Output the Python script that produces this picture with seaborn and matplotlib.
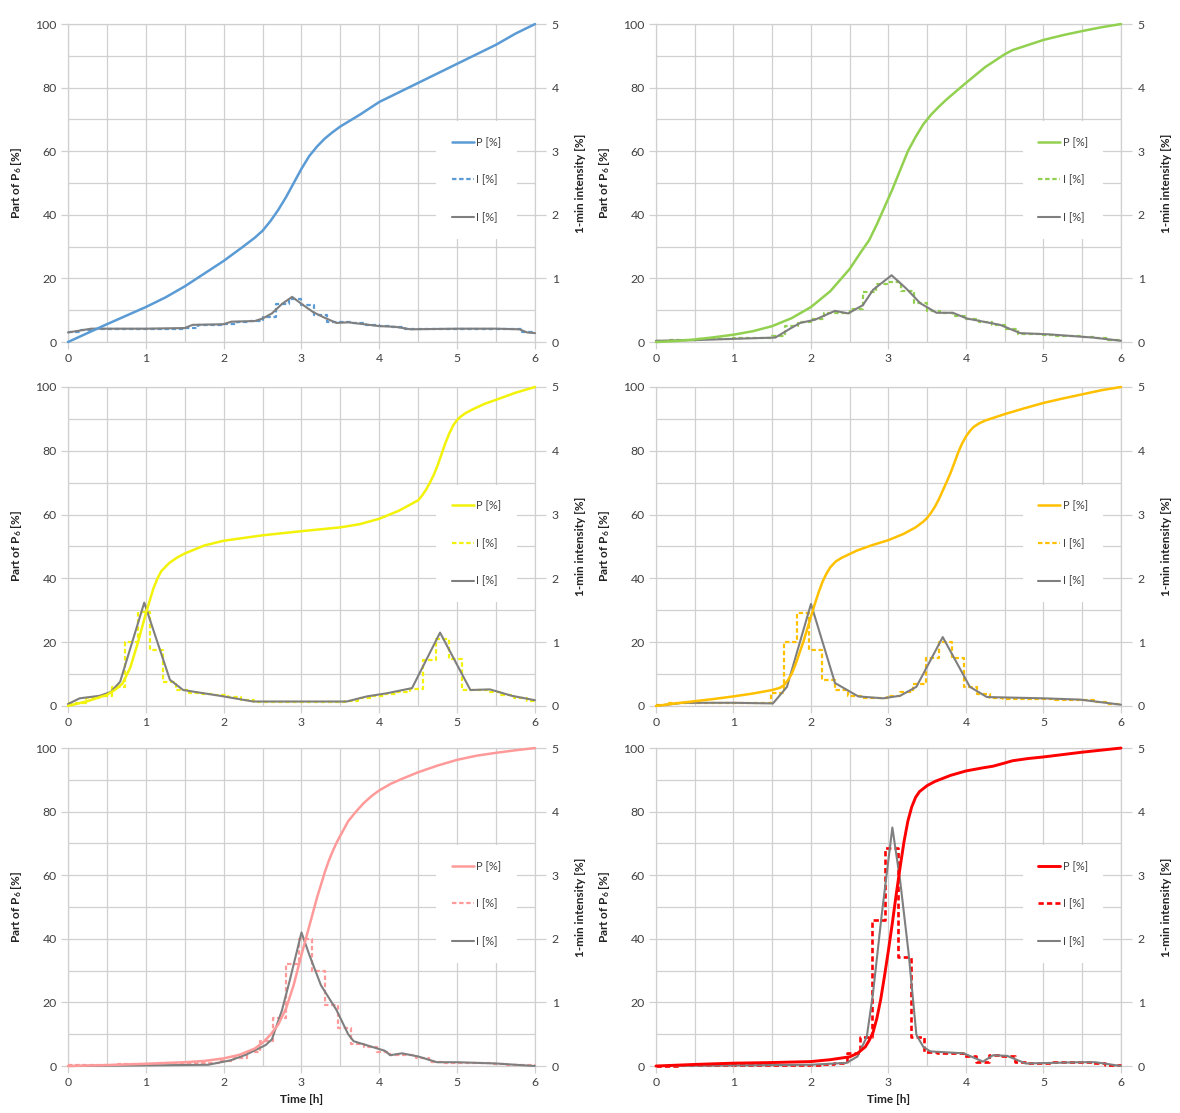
import numpy as np
import pandas as pd
import matplotlib
matplotlib.use("Agg")
import matplotlib.pyplot as plt
from matplotlib.ticker import MultipleLocator
import seaborn as sns

# ---------------- data ----------------
# cumulative precipitation P [% of P6] -- knots (time in hours)
p1_t = [0, 0.25, 0.5, 0.75, 1.0, 1.25, 1.5, 1.75, 2.0, 2.25, 2.4, 2.5, 2.6, 2.7, 2.8, 2.9,
        3.0, 3.1, 3.2, 3.3, 3.4, 3.5, 3.75, 4.0, 4.25, 4.5, 4.75, 5.0, 5.25, 5.5, 5.75, 6.0]
p1_v = [0, 2.8, 5.6, 8.3, 11, 14, 17.5, 21.5, 25.5, 30, 32.8, 35, 38, 41.5, 45.5, 50,
        54.5, 58.5, 61.5, 64, 66, 67.8, 71.5, 75.5, 78.5, 81.5, 84.5, 87.5, 90.5, 93.5, 97, 100]

p2_t = [0, 0.25, 0.5, 0.75, 1.0, 1.25, 1.5, 1.75, 2.0, 2.25, 2.5, 2.65, 2.75, 2.85, 2.95,
        3.05, 3.15, 3.25, 3.35, 3.45, 3.55, 3.65, 3.75, 4.0, 4.25, 4.5, 4.6, 4.75, 5.0,
        5.25, 5.5, 5.75, 6.0]
p2_v = [0, 0.3, 0.8, 1.5, 2.3, 3.4, 5, 7.5, 11, 16, 23, 28.5, 32, 37, 42.5,
        48, 54, 60, 64.5, 68.5, 71.5, 74, 76.3, 81.5, 86.5, 90.5, 91.8, 93, 95,
        96.5, 97.8, 99, 100]

p3_t = [0, 0.25, 0.5, 0.6, 0.7, 0.8, 0.9, 1.0, 1.05, 1.1, 1.15, 1.2, 1.3, 1.4, 1.5, 1.75,
        2.0, 2.5, 3.0, 3.5, 3.75, 4.0, 4.25, 4.5, 4.55, 4.6, 4.65, 4.7, 4.75, 4.8, 4.85,
        4.9, 4.95, 5.0, 5.05, 5.1, 5.2, 5.35, 5.5, 5.75, 6.0]
p3_v = [0, 1.5, 3.5, 5, 7, 12, 20, 29, 33, 37, 40, 42.3, 44.8, 46.5, 47.8, 50.3,
        51.8, 53.5, 54.8, 56, 57, 58.7, 61.2, 64.5, 66, 67.8, 70, 72.5, 75.5, 79, 82.5,
        85.5, 88, 89.7, 90.8, 91.7, 93, 94.7, 96, 98.2, 100]

p4_t = [0, 0.25, 0.5, 0.75, 1.0, 1.25, 1.5, 1.6, 1.65, 1.7, 1.75, 1.8, 1.85, 1.9, 1.95,
        2.0, 2.05, 2.1, 2.15, 2.2, 2.25, 2.32, 2.4, 2.6, 2.8, 3.0, 3.2, 3.35, 3.45, 3.5,
        3.55, 3.6, 3.65, 3.7, 3.75, 3.8, 3.85, 3.9, 3.95, 4.0, 4.05, 4.1, 4.17, 4.25,
        4.35, 4.5, 4.75, 5.0, 5.25, 5.5, 5.75, 6.0]
p4_v = [0, 0.8, 1.5, 2.2, 3, 3.9, 5, 5.7, 6.5, 8, 10, 13, 16.5, 20, 24,
        28, 32, 35.7, 39, 41.5, 43.5, 45.3, 46.5, 48.8, 50.5, 52, 54, 56, 57.8, 59,
        60.6, 62.5, 64.8, 67.5, 70.2, 73, 76.2, 79.5, 82.3, 84.5, 86.2, 87.5, 88.6, 89.5,
        90.3, 91.5, 93.3, 95, 96.4, 97.7, 99, 100]

p5_t = [0, 0.5, 1.0, 1.5, 1.75, 2.0, 2.2, 2.4, 2.5, 2.6, 2.7, 2.8, 2.9, 3.0, 3.05, 3.1,
        3.15, 3.2, 3.25, 3.3, 3.35, 3.4, 3.45, 3.5, 3.6, 3.7, 3.8, 3.9, 4.0, 4.15, 4.3,
        4.5, 4.75, 5.0, 5.25, 5.5, 5.75, 6.0]
p5_v = [0, 0.3, 0.7, 1.2, 1.6, 2.4, 3.5, 5.5, 7.3, 9.8, 13, 18, 25.5, 35, 39.5, 44,
        48.5, 53, 57, 61, 64.5, 67.5, 70.2, 72.5, 77, 80, 82.7, 84.9, 86.7, 88.8, 90.4,
        92.4, 94.5, 96.3, 97.6, 98.5, 99.3, 100]

p6_t = [0, 0.5, 1.0, 1.5, 2.0, 2.25, 2.5, 2.6, 2.7, 2.75, 2.8, 2.85, 2.9, 2.95, 3.0, 3.05,
        3.1, 3.15, 3.2, 3.25, 3.3, 3.35, 3.4, 3.5, 3.6, 3.8, 4.0, 4.2, 4.35, 4.5, 4.6,
        4.8, 5.0, 5.5, 6.0]
p6_v = [0, 0.5, 0.9, 1.1, 1.4, 2.0, 2.9, 4, 6, 8, 10.5, 15, 21, 28.5, 36.5, 45,
        54, 62.5, 70.5, 77, 81.5, 84.5, 86.3, 88.2, 89.5, 91.4, 92.8, 93.7, 94.3, 95.3, 96,
        96.7, 97.2, 98.7, 100]

# 1-min intensity I [%] (grey curves)
i1_t = [0, 0.1, 0.3, 0.6, 1.0, 1.5, 1.6, 2.0, 2.1, 2.4, 2.5, 2.62, 2.75, 2.88, 3.0, 3.15,
        3.3, 3.45, 3.6, 3.8, 4.0, 4.2, 4.4, 5.0, 5.5, 5.8, 5.9, 6.0]
i1_v = [0.15, 0.17, 0.21, 0.21, 0.21, 0.22, 0.27, 0.28, 0.32, 0.33, 0.37, 0.45, 0.6, 0.71,
        0.6, 0.47, 0.38, 0.3, 0.31, 0.28, 0.25, 0.24, 0.2, 0.21, 0.21, 0.2, 0.15, 0.14]

i2_t = [0, 0.5, 1.0, 1.54, 1.73, 1.86, 2.05, 2.31, 2.48, 2.67, 2.8, 3.04, 3.23, 3.41, 3.62,
        3.83, 4.01, 4.44, 4.7, 5.08, 5.64, 6.0]
i2_v = [0.02, 0.03, 0.05, 0.07, 0.21, 0.30, 0.35, 0.49, 0.45, 0.58, 0.82, 1.05, 0.84, 0.61,
        0.46, 0.46, 0.37, 0.27, 0.14, 0.12, 0.07, 0.02]

i3_t = [0, 0.15, 0.41, 0.55, 0.67, 0.98, 1.31, 1.48, 1.95, 2.38, 3.0, 3.58, 3.84, 4.1, 4.42,
        4.78, 5.17, 5.42, 5.7, 6.0]
i3_v = [0.03, 0.12, 0.16, 0.22, 0.38, 1.62, 0.41, 0.25, 0.16, 0.07, 0.07, 0.07, 0.15, 0.2,
        0.28, 1.15, 0.25, 0.26, 0.16, 0.09]

i4_t = [0, 0.35, 1.0, 1.51, 1.69, 2.0, 2.31, 2.61, 2.93, 3.15, 3.36, 3.7, 4.05, 4.27, 5.0,
        5.47, 6.0]
i4_v = [0.0, 0.05, 0.05, 0.04, 0.30, 1.60, 0.36, 0.15, 0.12, 0.16, 0.30, 1.08, 0.30, 0.14,
        0.12, 0.1, 0.02]

i5_t = [0, 1.0, 1.8, 2.09, 2.29, 2.54, 2.62, 2.75, 2.85, 3.0, 3.1, 3.25, 3.45, 3.6, 3.67,
        4.07, 4.14, 4.29, 4.5, 4.74, 5.0, 5.5, 6.0]
i5_v = [0.0, 0.01, 0.02, 0.09, 0.18, 0.33, 0.42, 0.88, 1.35, 2.1, 1.75, 1.27, 0.88, 0.5,
        0.39, 0.24, 0.17, 0.2, 0.15, 0.06, 0.06, 0.04, 0.0]

i6_t = [0, 1.0, 2.0, 2.46, 2.6, 2.72, 2.8, 2.91, 3.05, 3.15, 3.26, 3.36, 3.45, 3.54, 3.97,
        4.22, 4.35, 4.53, 4.77, 5.48, 5.67, 6.0]
i6_v = [0.0, 0.01, 0.02, 0.05, 0.15, 0.46, 1.14, 2.35, 3.75, 2.92, 1.77, 0.49, 0.3, 0.23,
        0.2, 0.07, 0.17, 0.16, 0.04, 0.06, 0.06, 0.0]

# 10-minute block intensity I [%] (dashed steps), 36 blocks over 6 h
b1 = [0.15, 0.19, 0.21, 0.21, 0.21, 0.21, 0.21, 0.21, 0.21, 0.22, 0.27, 0.27, 0.29, 0.32,
      0.33, 0.40, 0.60, 0.68, 0.58, 0.42, 0.32, 0.31, 0.30, 0.27, 0.25, 0.24, 0.21, 0.21,
      0.21, 0.21, 0.21, 0.21, 0.21, 0.21, 0.20, 0.15]
b2 = [0.02, 0.03, 0.03, 0.04, 0.05, 0.05, 0.06, 0.06, 0.07, 0.10, 0.25, 0.31, 0.36, 0.45,
      0.46, 0.52, 0.78, 0.92, 0.95, 0.80, 0.62, 0.48, 0.46, 0.41, 0.36, 0.32, 0.27, 0.20,
      0.13, 0.12, 0.11, 0.10, 0.09, 0.08, 0.06, 0.03]
b3 = [0.05, 0.12, 0.15, 0.30, 1.00, 1.48, 0.88, 0.38, 0.25, 0.21, 0.19, 0.17, 0.14, 0.10,
      0.07, 0.06, 0.06, 0.06, 0.06, 0.06, 0.06, 0.08, 0.13, 0.16, 0.19, 0.22, 0.27, 0.72,
      1.05, 0.73, 0.25, 0.25, 0.22, 0.17, 0.12, 0.08]
b4 = [0.02, 0.04, 0.05, 0.05, 0.05, 0.05, 0.05, 0.04, 0.04, 0.20, 1.00, 1.45, 0.88, 0.40,
      0.25, 0.15, 0.12, 0.12, 0.15, 0.22, 0.35, 0.75, 1.00, 0.75, 0.30, 0.18, 0.12, 0.11,
      0.11, 0.11, 0.11, 0.10, 0.10, 0.10, 0.07, 0.03]
b5 = [0.01, 0.02, 0.02, 0.02, 0.03, 0.03, 0.03, 0.04, 0.04, 0.04, 0.04, 0.05, 0.08, 0.12,
      0.22, 0.40, 0.75, 1.60, 2.00, 1.50, 0.96, 0.60, 0.35, 0.30, 0.22, 0.17, 0.18, 0.12,
      0.07, 0.05, 0.05, 0.05, 0.04, 0.03, 0.02, 0.01]
b6 = [0.00, 0.00, 0.01, 0.01, 0.01, 0.01, 0.01, 0.01, 0.01, 0.01, 0.01, 0.02, 0.02, 0.03,
      0.04, 0.20, 0.45, 2.30, 3.43, 1.72, 0.46, 0.22, 0.20, 0.20, 0.15, 0.07, 0.17, 0.15,
      0.06, 0.05, 0.05, 0.06, 0.06, 0.06, 0.05, 0.02]
# clock offset of the block boundaries in each event [h]
block_shift = [0.0, 0.0, 0.06, -0.02, -0.03, -0.04]

colors = ["#5b9bd5", "#92d050", "#f2f20a", "#ffc000", "#ff9a9a", "#ff0000"]
x_ticks = [0, 1, 2, 3, 4, 5, 6]
p_ticks = [0, 20, 40, 60, 80, 100]
i_ticks = [0, 1, 2, 3, 4, 5]

panels = [
    (p1_t, p1_v, i1_t, i1_v, b1),
    (p2_t, p2_v, i2_t, i2_v, b2),
    (p3_t, p3_v, i3_t, i3_v, b3),
    (p4_t, p4_v, i4_t, i4_v, b4),
    (p5_t, p5_v, i5_t, i5_v, b5),
    (p6_t, p6_v, i6_t, i6_v, b6),
]


def block_edges(n_blocks, shift):
    """Start times of the 10-min blocks (first starts at 0, last ends at 6 h)."""
    inner = np.arange(1, n_blocks) * 10 / 60.0 + shift
    return list(np.r_[0.0, inner, 6.0])


# ---------------- style ----------------
sns.set_theme(style="white")
plt.rcParams["font.family"] = ["Lato", "DejaVu Sans"]
plt.rcParams["mathtext.fontset"] = "custom"
plt.rcParams["mathtext.rm"] = "Lato"
plt.rcParams["mathtext.bf"] = "Lato:bold"
plt.rcParams["mathtext.default"] = "regular"

GRID = "#d0d0d0"
TXT = "#404040"
GREY = "#7f7f7f"

fig = plt.figure(figsize=(11.8, 11.13), dpi=100)

col_left = [0.0576, 0.5559]
col_w = [0.3958, 0.3941]
row_bottom = [0.6927, 0.3657, 0.0422]
row_h = [0.2857, 0.2866, 0.2857]

for idx, (pt, pv, it, iv, bv) in enumerate(panels):
    r, c = divmod(idx, 2)
    color = colors[idx]
    ax = fig.add_axes([col_left[c], row_bottom[r], col_w[c], row_h[r]])
    ax2 = ax.twinx()

    # intensity axis sits underneath and carries the grid and white background
    ax2.set_zorder(1)
    ax.set_zorder(2)
    ax.patch.set_visible(False)
    ax2.patch.set_visible(True)
    ax2.patch.set_facecolor("white")

    ax.set_xlim(0, 6)
    ax.set_ylim(0, 100)
    ax2.set_ylim(0, 5)
    ax.xaxis.set_major_locator(MultipleLocator(1))
    ax.xaxis.set_minor_locator(MultipleLocator(0.5))
    ax.yaxis.set_major_locator(MultipleLocator(20))
    ax2.yaxis.set_major_locator(MultipleLocator(1))
    ax2.yaxis.set_minor_locator(MultipleLocator(0.5))

    ax2.xaxis.set_visible(True)
    ax2.tick_params(axis="x", which="both", bottom=False, top=False,
                    labelbottom=False, labeltop=False)
    ax2.set_axisbelow(True)
    ax2.grid(True, which="both", axis="both", color=GRID, lw=0.9)
    ax.grid(False)

    for sp in ax.spines.values():
        sp.set_visible(False)
    for sp in ax2.spines.values():
        sp.set_visible(True)
        sp.set_color(GRID)
        sp.set_linewidth(0.9)
        sp.set_zorder(0.6)

    # intensity curves
    bdf = pd.DataFrame({"t": block_edges(len(bv), block_shift[idx]), "I": bv + [bv[-1]]})
    sns.lineplot(data=bdf, x="t", y="I", ax=ax2, color=color, lw=1.6 if idx < 5 else 1.9,
                 drawstyle="steps-post", linestyle=(0, (2.0, 1.2)), legend=False,
                 clip_on=False, label="I [%]")
    idf = pd.DataFrame({"t": it, "I": iv})
    sns.lineplot(data=idf, x="t", y="I", ax=ax2, color=GREY, lw=1.5, legend=False,
                 clip_on=False, label="I [%]")

    # cumulative curve
    pdf = pd.DataFrame({"t": pt, "P": pv})
    sns.lineplot(data=pdf, x="t", y="P", ax=ax, color=color, lw=1.8 if idx < 5 else 2.1,
                 legend=False, clip_on=False, label="P [%]")

    for a in (ax, ax2):
        leg = a.get_legend()
        if leg is not None:
            leg.remove()

    ax.set_xticks(x_ticks)
    ax.set_yticks(p_ticks)
    ax2.set_yticks(i_ticks)
    ax.tick_params(axis="x", which="major", bottom=True, length=5, width=0.9, color=GRID,
                   labelsize=8.8, labelcolor=TXT, pad=3)
    ax.tick_params(axis="x", which="minor", bottom=False)
    ax.tick_params(axis="y", which="major", left=True, length=5, width=0.9, color=GRID,
                   labelsize=8.8, labelcolor=TXT, pad=3)
    ax2.tick_params(axis="y", which="major", right=True, length=8, width=0.9, color=GRID,
                    labelsize=8.8, labelcolor=TXT, pad=4)
    ax2.tick_params(axis="y", which="minor", right=False)

    ax.set_ylabel("Part of $\\mathbf{P_6}$ [%]", fontsize=8.5, fontweight="bold",
                  color="#222222", labelpad=8)
    ax2.set_ylabel("1-min intensity [%]", fontsize=8.5, fontweight="bold",
                   color="#222222", labelpad=12)
    if r == 2:
        ax.set_xlabel("Time [h]", fontsize=8.5, fontweight="bold", color="#222222",
                      labelpad=4)
    else:
        ax.set_xlabel("")

    handles = [ax.get_lines()[0], ax2.get_lines()[0], ax2.get_lines()[1]]
    leg = ax.legend(handles=handles, labels=["P [%]", "I [%]", "I [%]"],
                    loc="center", bbox_to_anchor=(0.875, 0.51), frameon=True,
                    fontsize=8, labelspacing=2.4, handlelength=2.0, handletextpad=0.2,
                    borderpad=1.4, labelcolor=TXT)
    leg.get_frame().set_facecolor("white")
    leg.get_frame().set_edgecolor("none")
    leg.get_frame().set_alpha(1.0)

fig.savefig("out.png", dpi=100, facecolor="white")
